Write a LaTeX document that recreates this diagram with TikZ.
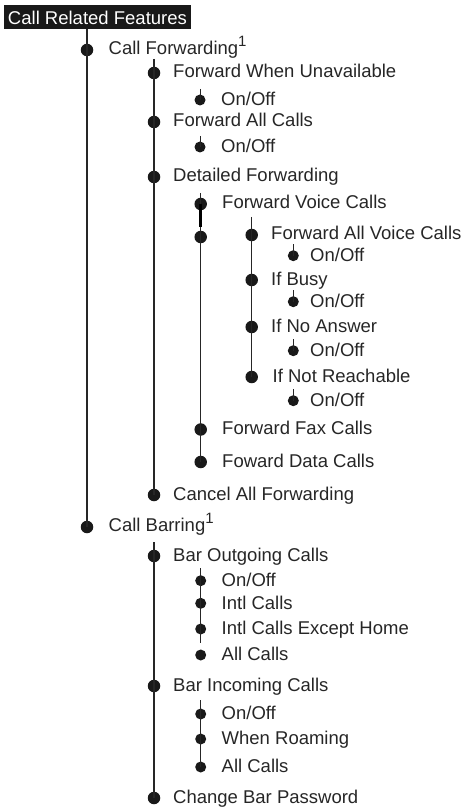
\documentclass[tikz,border=0pt]{standalone}
\usepackage{fontspec}
\setmainfont{Liberation Sans}
\newcommand\fnmark{\raisebox{8pt}{\fontsize{15}{15}\selectfont 1}}
\tikzset{
  bigdot/.style={circle, fill=black!90, inner sep=0pt, minimum size=12.5pt},
  smalldot/.style={circle, fill=black!90, inner sep=0pt, minimum size=11pt},
  lbl/.style={anchor=base west, inner sep=0pt, text=black!85, font=\fontsize{18.5}{20}\selectfont},
  treeline/.style={line width=1.1pt, draw=black!85},
  stubline/.style={line width=0.9pt, draw=black!85},
  thickseg/.style={line width=2.8pt},
}
\begin{document}
\begin{tikzpicture}[x=1pt,y=-1pt]
\useasboundingbox (0,0) rectangle (460,810);
% title
\node (title) [fill=black!90, text=white, anchor=north west, inner xsep=3.8pt, inner ysep=0pt,
  text height=19pt, text depth=5pt, font=\fontsize{18.5}{20}\selectfont] at (4,5) {Call Related Features};

% ---------- coordinates for free ends
\coordinate (l0top) at (87,29);
\coordinate (f1top) at (154,59);
\coordinate (f3top) at (200.7,193);
\coordinate (f4top) at (251.7,217);
\coordinate (thk) at (200.7,227);
\coordinate (b1top) at (154,542);
\coordinate (bo3top) at (200.7,568);
\coordinate (bo3bot) at (200.7,643);
\coordinate (bi3top) at (200.7,700);
\coordinate (s1) at (200,89);
\coordinate (s2) at (200,136);
\coordinate (s3) at (293.3,244);
\coordinate (s4) at (293.3,290);
\coordinate (s5) at (293.3,339);
\coordinate (s6) at (293.3,389);

% ---------- dots
\node[bigdot] (cf) at (87,50) {};
\node[bigdot] (cb) at (87,527) {};
% forwarding level 1
\node[bigdot] (fwu) at (154,73) {};
\node[smalldot] (oo1) at (200,100) {};
\node[bigdot] (fac) at (154,122) {};
\node[smalldot] (oo2) at (200,147) {};
\node[bigdot] (df) at (154,177) {};
\node[bigdot] (caf) at (154,495) {};
% detailed forwarding level
\node[bigdot] (fvc) at (200.7,204) {};
\node[bigdot] (blank) at (200.7,237) {};
\node[bigdot] (ffc) at (200.7,429.5) {};
\node[bigdot] (fdc) at (200.7,462) {};
% voice level
\node[bigdot] (favc) at (251.7,235) {};
\node[smalldot] (oo3) at (293.3,255.7) {};
\node[bigdot] (ib) at (251.7,280) {};
\node[smalldot] (oo4) at (293.3,301.7) {};
\node[bigdot] (ina) at (251.7,327) {};
\node[smalldot] (oo5) at (293.3,350.7) {};
\node[bigdot] (inr) at (251.7,377) {};
\node[smalldot] (oo6) at (293.3,400.7) {};
% barring
\node[bigdot] (boc) at (154,556) {};
\node[smalldot] (bo1) at (200.7,580.7) {};
\node[smalldot] (bo2) at (200.7,603.3) {};
\node[smalldot] (bo3) at (200.7,629) {};
\node[smalldot] (bo4) at (200.7,655) {};
\node[bigdot] (bic) at (154,686) {};
\node[smalldot] (bi1) at (200.7,714) {};
\node[smalldot] (bi2) at (200.7,739) {};
\node[smalldot] (bi3) at (200.7,767) {};
\node[bigdot] (cbp) at (154,798) {};

% ---------- lines
\draw[treeline] (l0top) -- (cb.center);
\draw[treeline] (f1top) -- (caf.center);
\draw[treeline] (f3top) -- (fdc.center);
\draw[thickseg] (fvc.center) -- (thk);
\draw[treeline] (f4top) -- (inr.center);
\draw[treeline] (b1top) -- (cbp.center);
\draw[treeline] (bo3top) -- (bo3bot);
\draw[treeline] (bi3top) -- (bi3.center);
\draw[stubline] (s1) -- (oo1.center);
\draw[stubline] (s2) -- (oo2.center);
\draw[stubline] (s3) -- (oo3.center);
\draw[stubline] (s4) -- (oo4.center);
\draw[stubline] (s5) -- (oo5.center);
\draw[stubline] (s6) -- (oo6.center);

% ---------- labels
\node[lbl] (tcf) at (108.5,54.5) {Call Forwarding\fnmark};
\node[lbl] (tcb) at (108.5,531.5) {Call Barring\fnmark};

\node[lbl] (tfwu) at (173,78) {Forward When Unavailable};
\node[lbl] (too1) at (221,105.5) {On/Off};
\node[lbl] (tfac) at (173,127) {Forward All Calls};
\node[lbl] (too2) at (221,152.5) {On/Off};
\node[lbl] (tdf) at (173,182) {Detailed Forwarding};
\node[lbl] (tcaf) at (173,500) {Cancel All Forwarding};

\node[lbl] (tfvc) at (222,209) {Forward Voice Calls};
\node[lbl] (tffc) at (222,434.5) {Forward Fax Calls};
\node[lbl] (tfdc) at (222,467) {Foward Data Calls};

\node[lbl] (tfavc) at (271,240) {Forward All Voice Calls};
\node[lbl] (too3) at (310,261) {On/Off};
\node[lbl] (tib) at (271,285) {If Busy};
\node[lbl] (too4) at (310,307) {On/Off};
\node[lbl] (tina) at (271,332) {If No Answer};
\node[lbl] (too5) at (310,356) {On/Off};
\node[lbl] (tinr) at (272.5,382) {If Not Reachable};
\node[lbl] (too6) at (310,406) {On/Off};

\node[lbl] (tboc) at (173,561) {Bar Outgoing Calls};
\node[lbl] (tbo1) at (221.5,586) {On/Off};
\node[lbl] (tbo2) at (221.5,609) {Intl Calls};
\node[lbl] (tbo3) at (221.5,634.5) {Intl Calls Except Home};
\node[lbl] (tbo4) at (221.5,660.5) {All Calls};
\node[lbl] (tbic) at (173,691) {Bar Incoming Calls};
\node[lbl] (tbi1) at (221.5,719.5) {On/Off};
\node[lbl] (tbi2) at (221.5,744.5) {When Roaming};
\node[lbl] (tbi3) at (221.5,772.5) {All Calls};
\node[lbl] (tcbp) at (173,803) {Change Bar Password};
\end{tikzpicture}
\end{document}
